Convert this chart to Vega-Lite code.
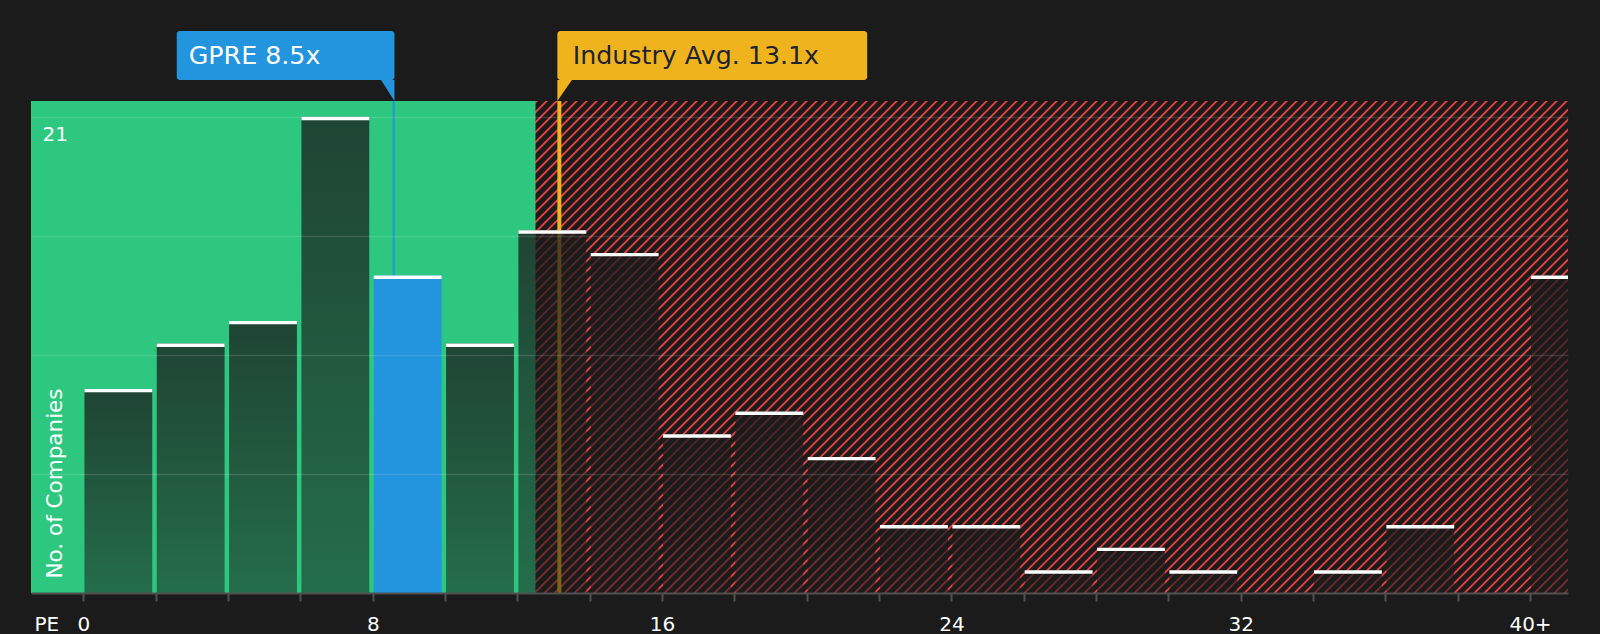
{
  "$schema": "https://vega.github.io/schema/vega-lite/v6.json",
  "description": "GPRE PE ratio vs industry peers",
  "width": 1537,
  "height": 492,
  "autosize": {"type": "none"},
  "padding": {"left": 31, "top": 101, "right": 32, "bottom": 41},
  "background": "#1b1b1b",
  "datasets": {
    "bins": [
      {"start": 0, "end": 2, "count": 9},
      {"start": 2, "end": 4, "count": 11},
      {"start": 4, "end": 6, "count": 12},
      {"start": 6, "end": 8, "count": 21},
      {"start": 8, "end": 10, "count": 14},
      {"start": 10, "end": 12, "count": 11},
      {"start": 12, "end": 14, "count": 16},
      {"start": 14, "end": 16, "count": 15},
      {"start": 16, "end": 18, "count": 7},
      {"start": 18, "end": 20, "count": 8},
      {"start": 20, "end": 22, "count": 6},
      {"start": 22, "end": 24, "count": 3},
      {"start": 24, "end": 26, "count": 3},
      {"start": 26, "end": 28, "count": 1},
      {"start": 28, "end": 30, "count": 2},
      {"start": 30, "end": 32, "count": 1},
      {"start": 34, "end": 36, "count": 1},
      {"start": 36, "end": 38, "count": 3},
      {"start": 40, "end": 42, "count": 14}
    ],
    "refs": [
      {"name": "GPRE", "pe": 8.58, "label": "GPRE 8.5x"},
      {"name": "Industry", "pe": 13.16, "label": "Industry Avg. 13.1x"}
    ],
    "one": [{}]
  },
  "layer": [
    {
      "data": {"name": "one"},
      "mark": {"type": "rule", "stroke": "#e3403f", "strokeWidth": 1500, "strokeDash": [1.9, 5.17], "strokeCap": "butt", "clip": true},
      "encoding": {
        "x": {"datum": 5.145, "type": "quantitative", "scale": {"domain": [-1.45, 41.05], "nice": false, "zero": false}},
        "y": {"datum": 34.23, "type": "quantitative", "scale": {"domain": [0, 21.7], "nice": false, "zero": false}},
        "x2": {"datum": 34.455},
        "y2": {"datum": -12.53}
      }
    },
    {
      "data": {"name": "one"},
      "mark": {"type": "rect", "fill": "#2dc77f"},
      "encoding": {
        "x": {"datum": -1.45, "type": "quantitative", "scale": {"domain": [-1.45, 41.05], "nice": false, "zero": false}},
        "x2": {"datum": 12.5},
        "y": {"datum": 0, "type": "quantitative", "scale": {"domain": [0, 21.7], "nice": false, "zero": false}},
        "y2": {"datum": 21.7}
      }
    },
    {
      "data": {"name": "refs"},
      "transform": [{"filter": "datum.name == 'GPRE'"}],
      "mark": {"type": "rule", "stroke": "#2394de", "strokeWidth": 2},
      "encoding": {
        "x": {"field": "pe", "type": "quantitative", "scale": {"domain": [-1.45, 41.05], "nice": false, "zero": false}},
        "y": {"datum": 0, "type": "quantitative", "scale": {"domain": [0, 21.7], "nice": false, "zero": false}},
        "y2": {"datum": 21.7}
      }
    },
    {
      "data": {"name": "refs"},
      "transform": [{"filter": "datum.name == 'Industry'"}],
      "mark": {"type": "rule", "stroke": "#efb31d", "strokeWidth": 4},
      "encoding": {
        "x": {"field": "pe", "type": "quantitative", "scale": {"domain": [-1.45, 41.05], "nice": false, "zero": false}},
        "y": {"datum": 0, "type": "quantitative", "scale": {"domain": [0, 21.7], "nice": false, "zero": false}},
        "y2": {"datum": 21.7}
      }
    },
    {
      "data": {"name": "bins"},
      "transform": [{"filter": "datum.start != 8"}],
      "mark": {
        "type": "rect",
        "clip": true,
        "xOffset": 1,
        "x2Offset": -3.5,
        "fill": {
          "gradient": "linear",
          "x1": 0, "y1": 0, "x2": 0, "y2": 1,
          "stops": [
            {"offset": 0, "color": "rgba(27,27,27,0.76)"},
            {"offset": 1, "color": "rgba(27,27,27,0.52)"}
          ]
        }
      },
      "encoding": {
        "x": {
          "field": "start", "type": "quantitative",
          "scale": {"domain": [-1.45, 41.05], "nice": false, "zero": false},
          "axis": {
            "title": "PE", "titleColor": "#ffffff", "titleFontSize": 20, "titleFontWeight": "normal",
            "titleX": 3, "titleY": 37, "titleAlign": "left", "titleBaseline": "alphabetic",
            "values": [0, 2, 4, 6, 8, 10, 12, 14, 16, 18, 20, 22, 24, 26, 28, 30, 32, 34, 36, 38, 40],
            "labelExpr": "datum.value % 8 == 0 ? (datum.value == 40 ? '40+' : datum.label) : ''",
            "labelColor": "#ffffff", "labelFontSize": 20, "labelPadding": 29, "labelBaseline": "alphabetic",
            "labelFlush": false, "labelOverlap": false,
            "tickColor": "#505050", "tickWidth": 2, "tickSize": 8,
            "domainColor": "#505050", "domainWidth": 2, "grid": false, "zindex": 1
          }
        },
        "x2": {"field": "end"},
        "y": {
          "field": "count", "type": "quantitative",
          "scale": {"domain": [0, 21.7], "nice": false, "zero": false},
          "axis": {
            "title": "No. of Companies", "titleColor": "#ffffff", "titleFontSize": 21.5, "titleFontWeight": "normal",
            "titleAngle": 270, "titleX": 30, "titleY": 477, "titleAlign": "left", "titleBaseline": "alphabetic",
            "values": [5.25, 10.5, 15.75, 21],
            "labelExpr": "datum.value == 21 ? '21' : ''",
            "labelColor": "#ffffff", "labelFontSize": 20, "labelAlign": "left", "labelBaseline": "alphabetic",
            "labelPadding": -11, "labelOffset": 24, "ticks": false, "tickSize": 0, "domain": false,
            "grid": true, "gridColor": "#ffffff", "gridOpacity": 0.13, "gridWidth": 1.5, "zindex": 1
          }
        },
        "y2": {"datum": 0}
      }
    },
    {
      "data": {"name": "bins"},
      "transform": [{"filter": "datum.start == 8"}],
      "mark": {"type": "rect", "fill": "#2394de", "xOffset": 1, "x2Offset": -3.5},
      "encoding": {
        "x": {"field": "start", "type": "quantitative", "scale": {"domain": [-1.45, 41.05], "nice": false, "zero": false}},
        "x2": {"field": "end"},
        "y": {"field": "count", "type": "quantitative", "scale": {"domain": [0, 21.7], "nice": false, "zero": false}},
        "y2": {"datum": 0}
      }
    },
    {
      "data": {"name": "bins"},
      "mark": {"type": "rule", "stroke": "#ffffff", "strokeWidth": 3.4, "strokeCap": "butt", "clip": true, "xOffset": 1, "x2Offset": -3.5, "yOffset": 1.7},
      "encoding": {
        "x": {"field": "start", "type": "quantitative", "scale": {"domain": [-1.45, 41.05], "nice": false, "zero": false}},
        "x2": {"field": "end"},
        "y": {"field": "count", "type": "quantitative", "scale": {"domain": [0, 21.7], "nice": false, "zero": false}}
      }
    },
    {
      "data": {"name": "refs"},
      "transform": [{"filter": "datum.name == 'GPRE'"}],
      "mark": {"type": "rect", "fill": "#2394de", "cornerRadius": 3, "xOffset": -217, "x2Offset": 0.7, "yOffset": -70, "y2Offset": -21},
      "encoding": {
        "x": {"field": "pe", "type": "quantitative", "scale": {"domain": [-1.45, 41.05], "nice": false, "zero": false}},
        "x2": {"field": "pe"},
        "y": {"datum": 21.7, "type": "quantitative", "scale": {"domain": [0, 21.7], "nice": false, "zero": false}},
        "y2": {"datum": 21.7}
      }
    },
    {
      "data": {"name": "refs"},
      "transform": [{"filter": "datum.name == 'GPRE'"}],
      "mark": {"type": "point", "shape": "M -1.27 -1 L 0 -1 L 0 1 Z", "size": 441, "filled": true, "fill": "#2394de", "opacity": 1, "strokeWidth": 0, "xOffset": 0.7, "yOffset": -10.5},
      "encoding": {
        "x": {"field": "pe", "type": "quantitative", "scale": {"domain": [-1.45, 41.05], "nice": false, "zero": false}},
        "y": {"datum": 21.7, "type": "quantitative", "scale": {"domain": [0, 21.7], "nice": false, "zero": false}}
      }
    },
    {
      "data": {"name": "refs"},
      "transform": [{"filter": "datum.name == 'GPRE'"}],
      "mark": {"type": "text", "fill": "#ffffff", "fontSize": 25.3, "align": "left", "baseline": "alphabetic", "xOffset": -205, "yOffset": -36.7},
      "encoding": {
        "x": {"field": "pe", "type": "quantitative", "scale": {"domain": [-1.45, 41.05], "nice": false, "zero": false}},
        "y": {"datum": 21.7, "type": "quantitative", "scale": {"domain": [0, 21.7], "nice": false, "zero": false}},
        "text": {"field": "label"}
      }
    },
    {
      "data": {"name": "refs"},
      "transform": [{"filter": "datum.name == 'Industry'"}],
      "mark": {"type": "rect", "fill": "#efb31d", "cornerRadius": 3, "xOffset": -2, "x2Offset": 307.8, "yOffset": -70, "y2Offset": -21},
      "encoding": {
        "x": {"field": "pe", "type": "quantitative", "scale": {"domain": [-1.45, 41.05], "nice": false, "zero": false}},
        "x2": {"field": "pe"},
        "y": {"datum": 21.7, "type": "quantitative", "scale": {"domain": [0, 21.7], "nice": false, "zero": false}},
        "y2": {"datum": 21.7}
      }
    },
    {
      "data": {"name": "refs"},
      "transform": [{"filter": "datum.name == 'Industry'"}],
      "mark": {"type": "point", "shape": "M 0 -1 L 1.38 -1 L 0 1 Z", "size": 441, "filled": true, "fill": "#efb31d", "opacity": 1, "strokeWidth": 0, "xOffset": -2, "yOffset": -10.5},
      "encoding": {
        "x": {"field": "pe", "type": "quantitative", "scale": {"domain": [-1.45, 41.05], "nice": false, "zero": false}},
        "y": {"datum": 21.7, "type": "quantitative", "scale": {"domain": [0, 21.7], "nice": false, "zero": false}}
      }
    },
    {
      "data": {"name": "refs"},
      "transform": [{"filter": "datum.name == 'Industry'"}],
      "mark": {"type": "text", "fill": "#1e2331", "fontSize": 25.3, "align": "left", "baseline": "alphabetic", "xOffset": 13.4, "yOffset": -36.7},
      "encoding": {
        "x": {"field": "pe", "type": "quantitative", "scale": {"domain": [-1.45, 41.05], "nice": false, "zero": false}},
        "y": {"datum": 21.7, "type": "quantitative", "scale": {"domain": [0, 21.7], "nice": false, "zero": false}},
        "text": {"field": "label"}
      }
    }
  ],
  "config": {
    "font": "DejaVu Sans",
    "view": {"stroke": null}
  }
}
